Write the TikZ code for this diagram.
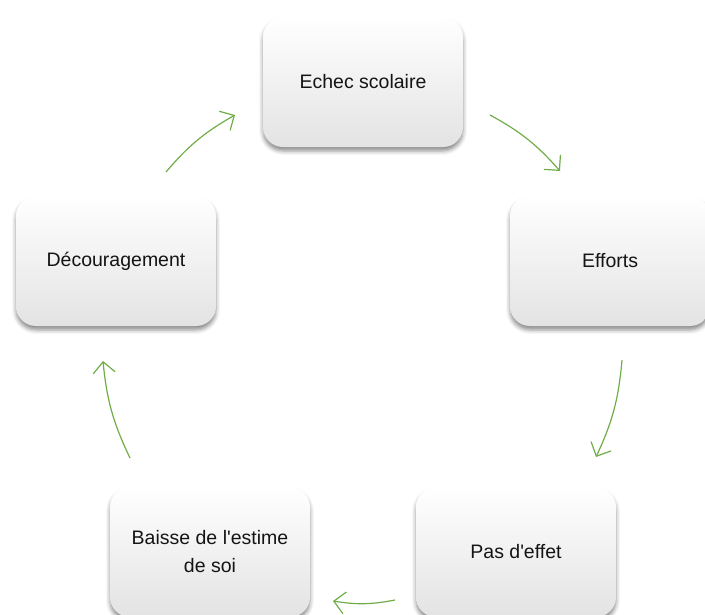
\documentclass[tikz,border=0pt]{standalone}
\usepackage{fontspec}
\setmainfont{Liberation Sans}
\usetikzlibrary{arrows.meta,shadows.blur}
\definecolor{arrowgreen}{RGB}{112,173,71}
\definecolor{txt}{RGB}{20,20,20}
\begin{document}
\begin{tikzpicture}[x=1pt,y=-1pt,
  box/.style={rounded corners=20pt, minimum width=200pt, minimum height=130pt,
    top color=white, middle color=white, bottom color=black!11,
    blur shadow={shadow xshift=0pt, shadow yshift=-4pt, shadow blur radius=4pt, shadow opacity=45},
    font=\fontsize{19.5}{28}\selectfont, text=txt, align=center, inner sep=0pt},
  cyc/.style={draw=arrowgreen, line width=1.2pt, -{Straight Barb[length=11pt,width=22pt,line width=1.2pt]}, bend left=10}]
\useasboundingbox (0,0) rectangle (705,614);
\clip (0,0) rectangle (705,614);
\node[box] (echec) at (363,82) {Echec scolaire};
\node[box] (efforts) at (610,261) {Efforts};
\node[box] (pas) at (516,552) {Pas d\textquotesingle effet};
\node[box] (baisse) at (210,552) {Baisse de l\textquotesingle estime\\de soi};
\node[box] (decou) at (116,261) {Découragement};
\coordinate (a1s) at (490,115); \coordinate (a1e) at (560,171);
\coordinate (a2s) at (622,360); \coordinate (a2e) at (596,457);
\coordinate (a3s) at (395,600); \coordinate (a3e) at (333,601);
\coordinate (a4s) at (130,458); \coordinate (a4e) at (103,361);
\coordinate (a5s) at (166,172); \coordinate (a5e) at (235,115);
\draw[cyc] (a1s) to (a1e);
\draw[cyc] (a2s) to (a2e);
\draw[cyc] (a3s) to (a3e);
\draw[cyc] (a4s) to (a4e);
\draw[cyc] (a5s) to (a5e);
\end{tikzpicture}
\end{document}
